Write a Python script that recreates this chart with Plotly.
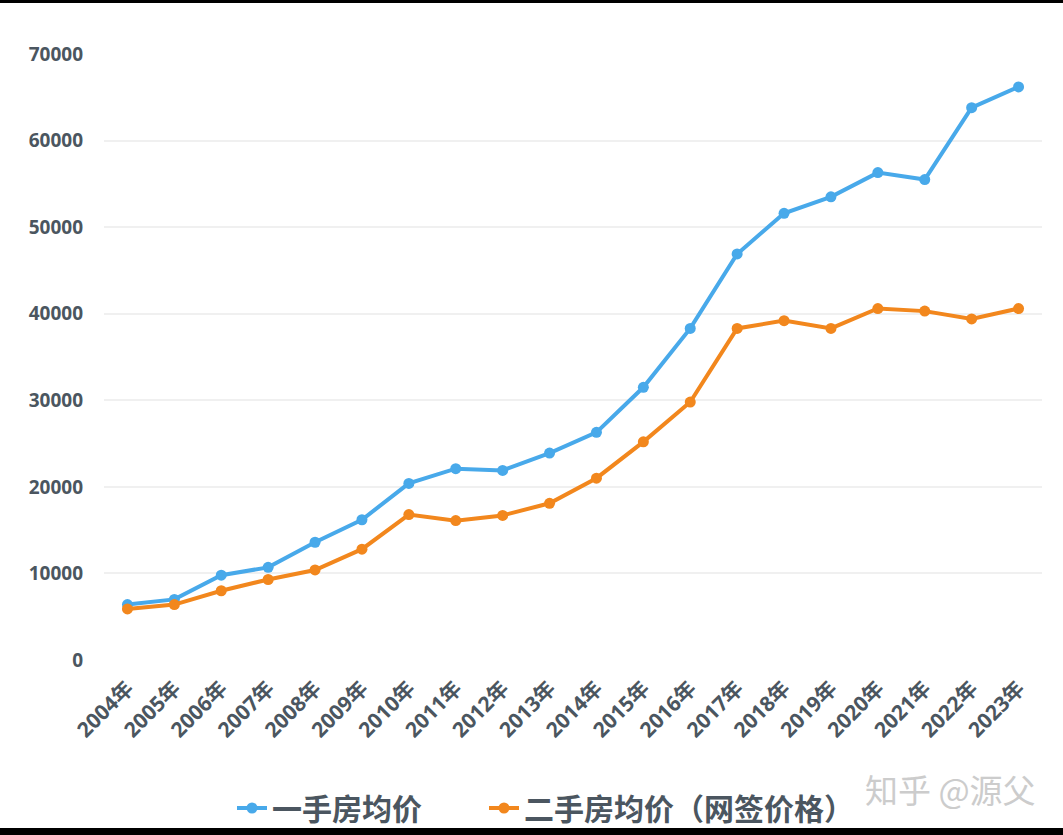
import plotly.graph_objects as go

years = ["2004年", "2005年", "2006年", "2007年", "2008年", "2009年", "2010年", "2011年",
         "2012年", "2013年", "2014年", "2015年", "2016年", "2017年", "2018年", "2019年",
         "2020年", "2021年", "2022年", "2023年"]
new_home = [6400, 7000, 9800, 10700, 13600, 16200, 20400, 22100, 21900, 23900,
            26300, 31500, 38300, 46900, 51600, 53500, 56300, 55500, 63800, 66200]
second_home = [5900, 6400, 8000, 9300, 10400, 12800, 16800, 16100, 16700, 18100,
               21000, 25200, 29800, 38300, 39200, 38300, 40600, 40300, 39400, 40600]
y_ticks = [0, 10000, 20000, 30000, 40000, 50000, 60000, 70000]
y_tick_text = ["0", "10000", "20000", "30000", "40000", "50000", "60000", "70000"]

BLUE = "#48a9ea"
ORANGE = "#f2871d"
TEXT = "#4b5660"
FONT = "Open Sans, Noto Sans CJK SC, sans-serif"

fig = go.Figure()
fig.add_trace(go.Scatter(
    x=years, y=new_home, name="一手房均价", mode="lines+markers", legend="legend",
    line=dict(color=BLUE, width=4), marker=dict(color=BLUE, size=11)))
fig.add_trace(go.Scatter(
    x=years, y=second_home, name="二手房均价（网签价格）", mode="lines+markers",
    legend="legend2",
    line=dict(color=ORANGE, width=4), marker=dict(color=ORANGE, size=11)))

legend_common = dict(orientation="h", xref="container", yref="container",
                     y=(835 - 808) / 835, xanchor="left", yanchor="middle",
                     bgcolor="rgba(0,0,0,0)",
                     font=dict(size=30, family=FONT, color=TEXT, weight="bold"))

fig.update_layout(
    width=1063, height=835,
    margin=dict(l=104, r=21, t=54, b=175, autoexpand=False),
    paper_bgcolor="white", plot_bgcolor="white",
    font=dict(family=FONT, color=TEXT),
    showlegend=True,
    legend=dict(x=232 / 1063, **legend_common),
    legend2=dict(x=484 / 1063, **legend_common),
    xaxis=dict(type="category", range=[-0.5, 19.5], showgrid=False, showline=False,
               zeroline=False, ticks="", tickangle=-45, automargin=False,
               ticklabelstandoff=11,
               tickfont=dict(size=21, family=FONT, color=TEXT, weight="bold")),
    yaxis=dict(range=[0, 70000], tickvals=y_ticks, ticktext=y_tick_text,
               showgrid=True, gridcolor="#f0f0f0", automargin=False,
               gridwidth=1.5, zeroline=False, showline=False, ticklabelstandoff=20,
               tickfont=dict(size=19, family=FONT, color=TEXT, weight="bold")),
    annotations=[dict(text="知乎 @源父", xref="paper", yref="paper",
                      x=(1038 - 104) / 938, y=(660 - 789) / 606,
                      xanchor="right", yanchor="middle", showarrow=False,
                      font=dict(size=33, color="#cccccc", family="Noto Sans CJK SC"))],
    shapes=[
        dict(type="rect", xref="paper", yref="paper", x0=-0.2, x1=1.1,
             y0=(660 - 3) / 606, y1=(660 + 5) / 606,
             fillcolor="black", line=dict(width=0), layer="above"),
        dict(type="rect", xref="paper", yref="paper", x0=-0.2, x1=1.1,
             y0=(660 - 828) / 606, y1=(660 - 840) / 606,
             fillcolor="black", line=dict(width=0), layer="above"),
    ],
)

fig.write_html("out.html")
